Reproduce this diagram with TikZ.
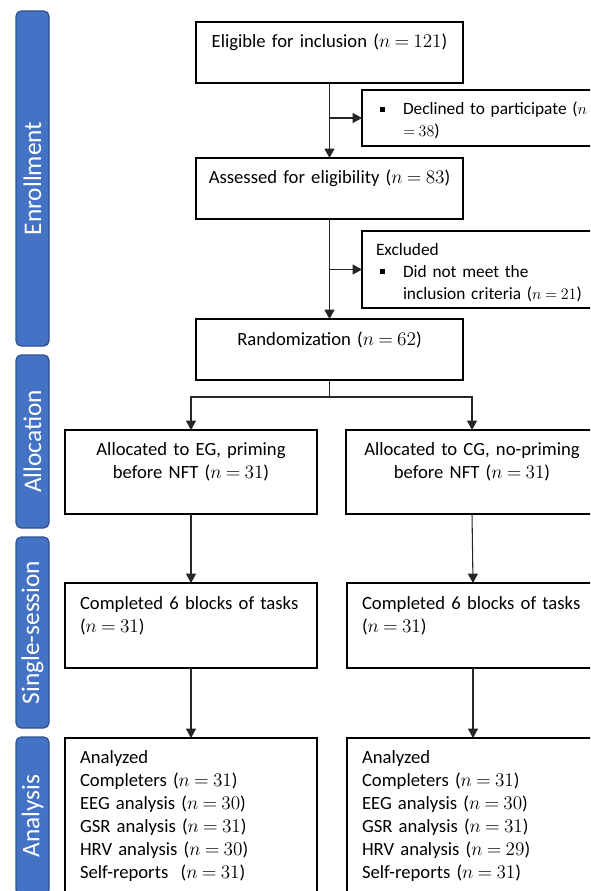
\documentclass[tikz,border=0pt]{standalone}
\usepackage{fontspec}
\setmainfont{Carlito}
\usetikzlibrary{arrows.meta}

\definecolor{barblue}{HTML}{4472C4}
\definecolor{barline}{HTML}{2F528F}
\newcommand{\sqitem}{\hspace*{3pt}\rule[2.5pt]{3.75pt}{3.75pt}\hspace*{13.5pt}}
\newcommand{\sqhang}{\hspace*{20.25pt}}
\thickmuskip=4mu

\begin{document}
\begin{tikzpicture}[x=0.75pt,y=-0.75pt,
    font=\fontsize{14}{17.25}\selectfont,
    bar/.style={draw=barline, line width=1pt, fill=barblue, rounded corners=4pt,
        rotate=90, minimum height=24.75pt, inner sep=0pt, text=white,
        font=\fontsize{19}{22}\selectfont},
    box/.style={draw, line width=1.5pt, anchor=north west, outer sep=0pt,
        inner ysep=0pt, inner xsep=4pt, text height=19.5pt},
    sidebox/.style={box, inner xsep=10.5pt, text width=180pt, align=left,
        font=\fontsize{13}{16.5}\selectfont},
    armbox/.style={box, text width=181pt, text height=18.75pt,
        text depth=44.25pt, align=center},
    listbox/.style={box, inner xsep=11.25pt, text width=166.5pt, align=left},
    line/.style={line width=0.8pt, black!85},
    arr/.style={line, -{Triangle[width=7.5pt,length=7pt]}}]
    \useasboundingbox (0,0) rectangle (590,891);
    \clip (0,0) rectangle (590,891);

    % stage bars
    \node[bar, minimum width=251.25pt] (enroll) at (32.5,178.5) {Enrollment};
    \node[bar, minimum width=129.75pt] (alloc) at (32.5,441.5) {Allocation};
    \node[bar, minimum width=143.25pt] (session) at (32.5,632.5) {Single-session};
    \node[bar, minimum width=118.5pt] (analysis) at (32.5,816) {Analysis};

    % enrollment
    \node[box, text width=192.25pt, text depth=26.25pt, align=center] (elig) at (196,22)
        {Eligible for inclusion ($n = 121$)};
    \node[sidebox, text height=18.75pt, text depth=23.25pt] (decl) at (362,90)
        {\sqitem Declined to participate ($n$\\\sqhang$= 38$)};
    \node[box, text width=192.25pt, text depth=26.25pt, align=center] (assess) at (196,158)
        {Assessed for eligibility ($n = 83$)};
    \node[sidebox, text height=18pt, text depth=39.75pt] (excl) at (362,231)
        {Excluded\\\sqitem Did not meet the\\\sqhang inclusion criteria ($n = 21$)};
    \node[box, text width=192.25pt, text depth=26.25pt, align=center] (rand) at (196,319)
        {Randomization ($n = 62$)};

    % allocation
    \node[armbox] (allocEG) at (65,430) {Allocated to EG, priming\\before NFT ($n = 31$)};
    \node[armbox] (allocCG) at (346,430) {Allocated to CG, no-priming\\before NFT ($n = 31$)};

    % single session
    \node[listbox, text depth=44.25pt] (compEG) at (65,583)
        {Completed 6 blocks of tasks\\($n = 31$)};
    \node[listbox, text depth=44.25pt] (compCG) at (347,583)
        {Completed 6 blocks of tasks\\($n = 31$)};

    % analysis
    \node[listbox, text height=18.75pt, text depth=106.5pt] (anaEG) at (65,738)
        {Analyzed\\Completers ($n = 31$)\\EEG analysis ($n = 30$)\\GSR analysis ($n = 31$)\\HRV analysis ($n = 30$)\\Self-reports\ \ ($n = 31$)};
    \node[listbox, text height=18.75pt, text depth=106.5pt] (anaCG) at (347,738)
        {Analyzed\\Completers ($n = 31$)\\EEG analysis ($n = 30$)\\GSR analysis ($n = 31$)\\HRV analysis ($n = 29$)\\Self-reports ($n = 31$)};

    % connectors
    \draw[arr] (elig) -- (assess);
    \draw[arr] (elig.south |- decl.west) -- (decl.west);
    \draw[arr] (assess) -- (rand);
    \draw[arr] (assess.south |- excl.west) -- (excl.west);
    \coordinate (split) at (rand.south |- 0,397);
    \draw[line] (rand.south) -- (split);
    \draw[arr] (split) -| (allocEG.north);
    \draw[arr] (split) -| (allocCG.north);
    \draw[arr] (allocEG) -- (compEG);
    \draw[arr] (allocCG.south) -- (compCG.north);
    \draw[arr] (compEG) -- (anaEG);
    \draw[arr] (compCG) -- (anaCG);
\end{tikzpicture}
\end{document}
